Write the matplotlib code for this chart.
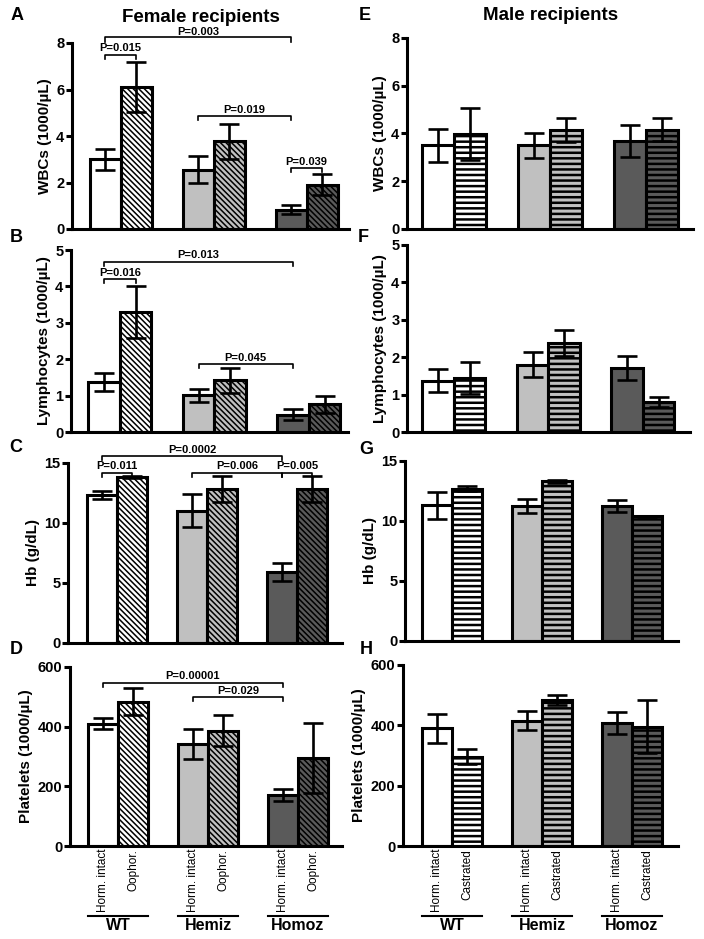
import matplotlib
matplotlib.use("Agg")
import matplotlib.pyplot as plt

plt.rcParams['font.family'] = ['Liberation Sans', 'DejaVu Sans']

W, H = 704, 939
fig = plt.figure(figsize=(W / 100, H / 100), dpi=100)

# ---------------- data ----------------
groups = ["WT", "Hemiz", "Homoz"]
female_conditions = ["Horm. intact", "Oophor."]
male_conditions = ["Horm. intact", "Castrated"]

# Female recipients (order: WT intact, WT oophor, Hemiz intact, Hemiz oophor, Homoz intact, Homoz oophor)
f_wbc = [3.0, 6.1, 2.55, 3.77, 0.83, 1.91]
f_wbc_sem = [0.46, 1.07, 0.57, 0.75, 0.19, 0.45]
f_lym = [1.38, 3.29, 1.01, 1.42, 0.48, 0.76]
f_lym_sem = [0.24, 0.71, 0.18, 0.35, 0.16, 0.23]
f_hb = [12.35, 13.83, 11.04, 12.82, 5.94, 12.82]
f_hb_sem = [0.35, 0.12, 1.34, 1.09, 0.75, 1.09]
f_plt = [410, 484, 343, 386, 171, 294]
f_plt_sem = [18, 46, 50, 52, 19, 118]

# Male recipients (order: WT intact, WT castr, Hemiz intact, Hemiz castr, Homoz intact, Homoz castr)
m_wbc = [3.5, 3.98, 3.5, 4.16, 3.67, 4.16]
m_wbc_sem = [0.68, 1.07, 0.51, 0.51, 0.67, 0.49]
m_lym = [1.37, 1.45, 1.80, 2.39, 1.71, 0.80]
m_lym_sem = [0.31, 0.43, 0.34, 0.35, 0.32, 0.14]
m_hb = [11.3, 12.7, 11.25, 13.3, 11.25, 10.39]
m_hb_sem = [1.13, 0.24, 0.55, 0.12, 0.49, 0.06]
m_plt = [390, 296, 415, 484, 407, 396]
m_plt_sem = [48, 24, 32, 18, 37, 87]

# significance brackets: (i_bar, j_bar, y_line, y_text, label)
a_sig = [(0, 1, 7.5, 7.8, "P=0.015"), (0, 4, 8.24, 8.47, "P=0.003"),
         (2, 4, 4.85, 5.13, "P=0.019"), (4, 5, 2.62, 2.88, "P=0.039")]
b_sig = [(0, 4, 4.68, 4.85, "P=0.013"), (0, 1, 4.19, 4.38, "P=0.016"),
         (2, 4, 1.86, 2.04, "P=0.045")]
c_sig = [(0, 4, 15.58, 16.05, "P=0.0002"), (0, 1, 14.2, 14.75, "P=0.011"),
         (2, 4, 14.2, 14.75, "P=0.006"), (4, 5, 14.2, 14.75, "P=0.005")]
d_sig = [(0, 4, 546, 569, "P=0.00001"), (2, 4, 498, 518, "P=0.029")]

# ---------------- styling ----------------
positions = [1, 2, 4, 5, 7, 8]
colors = ["white", "white", "#c0c0c0", "#c0c0c0", "#5a5a5a", "#5a5a5a"]
LW = 2.2


def make_axes(x0, x1, y0, y1, c0, w):
    ax = fig.add_axes([x0 / W, 1 - y1 / H, (x1 - x0) / W, (y1 - y0) / H])
    left = 1 - (c0 - x0) / w
    ax.set_xlim(left, left + (x1 - x0) / w)
    return ax


def draw_panel(ax, means, sems, ymax, yticks, ylabel, hatch, hatch_lw, sig=None,
               xlabels=None):
    for k, (p, m, s) in enumerate(zip(positions, means, sems)):
        h = None if k % 2 == 0 else hatch
        bar = ax.bar(p, m, width=1.0, color=colors[k], edgecolor="black",
                     linewidth=LW, hatch=h, zorder=2)[0]
        if h is not None and hasattr(bar, "set_hatch_linewidth"):
            bar.set_hatch_linewidth(hatch_lw)
    ax.errorbar(positions, means, yerr=sems, fmt="none", ecolor="black",
                elinewidth=1.9, capsize=7.5, capthick=1.9, zorder=3)
    ax.set_ylim(0, ymax)
    ax.set_yticks(yticks)
    ax.set_yticklabels([str(t) for t in yticks], fontsize=10.5, fontweight="bold")
    ax.set_ylabel(ylabel, fontsize=11, fontweight="bold", labelpad=3)
    for sp in ["top", "right"]:
        ax.spines[sp].set_visible(False)
    for sp in ["left", "bottom"]:
        ax.spines[sp].set_linewidth(LW)
    ax.tick_params(axis="y", direction="out", length=4, width=LW, pad=1.5)
    if xlabels is None:
        ax.set_xticks([])
    else:
        ax.set_xticks(positions)
        ax.set_xticklabels(xlabels, rotation=90, fontsize=8.5, va="top")
        ax.tick_params(axis="x", length=0, pad=2)
    if sig:
        drop = 0.022 * ymax
        for i, j, yl, yt, lab in sig:
            xi, xj = positions[i], positions[j]
            ax.plot([xi, xi, xj, xj], [yl - drop, yl, yl, yl - drop], color="black",
                    lw=1.2, clip_on=False, zorder=4)
            ax.text((xi + xj) / 2, yt, lab, ha="center", va="center", fontsize=8,
                    fontweight="bold", clip_on=False)


def group_lines(ax, yline, ytext):
    tr = ax.get_xaxis_transform()
    for g, (a, b) in zip(groups, [(0, 1), (2, 3), (4, 5)]):
        xa, xb = positions[a] - 0.5, positions[b] + 0.5
        ax.plot([xa, xb], [yline, yline], color="black", lw=1.5, transform=tr,
                clip_on=False)
        ax.text((xa + xb) / 2, ytext, g, transform=tr, ha="center", va="center",
                fontsize=11.5, fontweight="bold")


diag = "\\" * 6
horiz = "---"

axA = make_axes(72, 349, 43, 229, 105, 31)
draw_panel(axA, f_wbc, f_wbc_sem, 8, [0, 2, 4, 6, 8], "WBCs (1000/\u00b5L)", diag, 1.1, a_sig)
axB = make_axes(71, 348, 250, 432, 104, 31.5)
draw_panel(axB, f_lym, f_lym_sem, 5, [0, 1, 2, 3, 4, 5], "Lymphocytes (1000/\u00b5L)", diag, 1.1, b_sig)
axC = make_axes(68, 342, 463, 643, 102, 30)
draw_panel(axC, f_hb, f_hb_sem, 15, [0, 5, 10, 15], "Hb (g/dL)", diag, 1.1, c_sig)
axD = make_axes(70, 342, 667, 846, 103, 30)
draw_panel(axD, f_plt, f_plt_sem, 600, [0, 200, 400, 600], "Platelets (1000/\u00b5L)", diag, 1.1, d_sig,
           xlabels=female_conditions * 3)
group_lines(axD, -70 / 179, -80 / 179)

axE = make_axes(407, 693, 38, 229, 438, 32)
draw_panel(axE, m_wbc, m_wbc_sem, 8, [0, 2, 4, 6, 8], "WBCs (1000/\u00b5L)", horiz, 1.8)
axF = make_axes(407, 690, 245, 432, 438, 31.5)
draw_panel(axF, m_lym, m_lym_sem, 5, [0, 1, 2, 3, 4, 5], "Lymphocytes (1000/\u00b5L)", horiz, 1.8)
axG = make_axes(405, 678, 461, 641, 437, 30)
draw_panel(axG, m_hb, m_hb_sem, 15, [0, 5, 10, 15], "Hb (g/dL)", horiz, 1.8)
axH = make_axes(403, 678, 665, 846, 437, 30)
draw_panel(axH, m_plt, m_plt_sem, 600, [0, 200, 400, 600], "Platelets (1000/\u00b5L)", horiz, 1.8,
           xlabels=male_conditions * 3)
group_lines(axH, -70 / 181, -80 / 181)

# titles
fig.text(201 / W, 1 - 17 / H, "Female recipients", ha="center", va="center",
         fontsize=13.5, fontweight="bold")
fig.text(551 / W, 1 - 16 / H, "Male recipients", ha="center", va="center",
         fontsize=13.5, fontweight="bold")

# panel letters
for lab, x, y in [("A", 17, 16), ("B", 16, 238), ("C", 16, 448), ("D", 16, 650),
                  ("E", 365, 16), ("F", 363, 238), ("G", 366, 450), ("H", 366, 650)]:
    fig.text(x / W, 1 - y / H, lab, ha="center", va="center", fontsize=13,
             fontweight="bold")

fig.savefig("out.png", dpi=100)
